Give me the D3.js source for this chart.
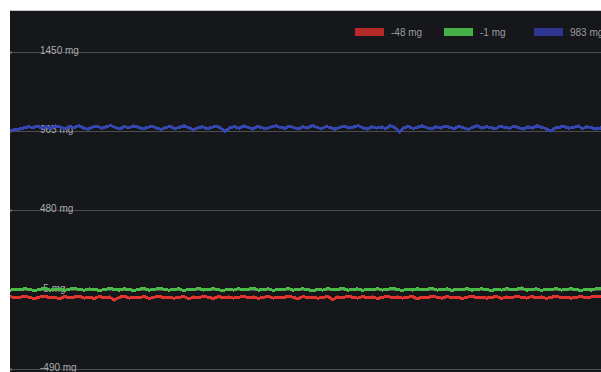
<!DOCTYPE html>
<html>
<head>
<meta charset="utf-8">
<script src="https://cdn.jsdelivr.net/npm/d3@7"></script>
<style>
  html, body { margin: 0; padding: 0; background: #ffffff; }
  svg { display: block; }
  text { font-family: "Liberation Sans", Arial, sans-serif; }
</style>
</head>
<body>
<script>
// Readings (mg) for the three channels, sampled at equal intervals
const blueValues = [968, 972, 976, 983, 990, 986, 993, 984, 990, 981, 995, 988, 979, 992, 985, 997, 983, 975, 988, 994,
  981, 990, 998, 985, 977, 991, 984, 995, 987, 978, 986, 993, 982, 974, 985, 992, 979, 987, 996, 984,
  973, 983, 990, 978, 986, 994, 982, 962, 985, 991, 980, 996, 986, 976, 992, 984, 979, 989, 996, 986,
  981, 994, 984, 977, 990, 982, 997, 986, 978, 992, 984, 975, 987, 994, 982, 989, 997, 984, 976, 991,
  982, 989, 979, 996, 986, 958, 984, 992, 979, 987, 996, 984, 977, 990, 982, 994, 986, 979, 992, 984,
  974, 987, 997, 982, 990, 985, 978, 993, 986, 981, 995, 984, 976, 990, 982, 997, 986, 979, 964, 983,
  988, 992, 981, 986, 995, 979, 990, 984, 976, 983];
const greenValues = [-9, -2, -7, 1, -5, -11, -3, 2, -8, -5, 0, -10, -2, 4, -6, -8, -1, -3, -10, -5,
  2, -3, -8, 0, -5, -10, -2, 1, -8, -5, 5, -3, -8, -4, 0, -11, -2, -5, 3, -8,
  -3, 0, -6, -10, -2, -8, 1, -5, -3, 4, -8, -5, 0, -10, -2, -6, 3, -8, -3, 0,
  -5, -13, -2, -8, 1, -5, -3, 2, -8, -5, 0, -10, -2, -6, 1, -8, -3, 4, -5, -10,
  -2, -8, 0, -5, -3, 3, -8, -5, 0, -10, -2, -6, 2, -8, -3, 0, -5, -10, -2, -8,
  1, -5, -3, 5, -8, -5, 0, -10, -2, -6, 2, -8, -3, 0, -5, -10, -2, -8, 0, -1];
const redValues = [-47, -56, -51, -45, -54, -59, -50, -44, -55, -52, -61, -47, -55, -50, -45, -57, -52, -59, -47, -55,
  -50, -68, -52, -45, -57, -50, -55, -47, -59, -52, -44, -55, -50, -57, -52, -47, -61, -50, -55, -45,
  -52, -59, -47, -55, -50, -57, -52, -45, -55, -50, -59, -52, -47, -57, -50, -55, -45, -52, -61, -47,
  -55, -50, -57, -52, -47, -66, -50, -55, -45, -52, -57, -47, -55, -50, -59, -52, -45, -55, -50, -57,
  -52, -47, -61, -50, -55, -45, -52, -57, -47, -55, -50, -59, -52, -45, -55, -50, -57, -52, -47, -59,
  -50, -55, -45, -52, -57, -47, -55, -50, -59, -52, -45, -55, -50, -57, -52, -47, -55, -50, -45, -48];

const yTicks = [-490, -5, 480, 965, 1450];
const legendLabels = ["-48 mg", "-1 mg", "983 mg"];
const legendColors = ["#b52a2a", "#45b046", "#2c3590"];
const lineColors = ["#e0352f", "#4cb848", "#3646b0"];

const W = 601, H = 372;
const panel = { left: 10, top: 10, right: 601, bottom: 372 };

const svg = d3.select("body").append("svg").attr("width", W).attr("height", H);

// dark plotting panel
svg.append("rect")
  .attr("x", panel.left).attr("y", panel.top)
  .attr("width", panel.right - panel.left).attr("height", panel.bottom - panel.top)
  .attr("fill", "#16171a");

// thin light rule along the panel top
svg.append("line")
  .attr("x1", panel.left).attr("x2", panel.right)
  .attr("y1", panel.top + 0.5).attr("y2", panel.top + 0.5)
  .attr("stroke", "#c4c6c8").attr("stroke-width", 1);

const y = d3.scaleLinear().domain([-490, 1450]).range([369, 51.5]);

// horizontal grid + labels
const grid = svg.append("g");
grid.selectAll("line").data(yTicks).join("line")
  .attr("x1", panel.left).attr("x2", panel.right)
  .attr("y1", d => Math.round(y(d)) + 0.5).attr("y2", d => Math.round(y(d)) + 0.5)
  .attr("stroke", "#4a4d52").attr("stroke-width", 1);
grid.selectAll("rect").data(yTicks).join("rect")
  .attr("x", panel.left).attr("y", d => Math.round(y(d)) - 0.5)
  .attr("width", 2).attr("height", 2)
  .attr("fill", "#6a6d72");
grid.selectAll("text").data(yTicks).join("text")
  .attr("x", 40).attr("y", d => Math.round(y(d)) + 1.5)
  .attr("font-size", 10)
  .attr("fill", "#a9abae")
  .text(d => d + " mg");

// series lines, drawn without anti-aliasing for a crisp pixel trace
const seriesList = [redValues, greenValues, blueValues];
svg.append("g").selectAll("path").data(seriesList).join("path")
  .attr("d", vals => {
    const x = d3.scaleLinear().domain([0, vals.length - 1]).range([panel.left, panel.right]);
    return d3.line().x((d, i) => x(i)).y(d => y(d))(vals);
  })
  .attr("fill", "none")
  .attr("stroke", (d, i) => lineColors[i])
  .attr("stroke-width", 3)
  .attr("shape-rendering", "crispEdges");

// legend
const legendX = [355, 444, 534];
const lg = svg.append("g");
lg.selectAll("rect").data(legendLabels).join("rect")
  .attr("x", (d, i) => legendX[i]).attr("y", 28)
  .attr("width", 29).attr("height", 8)
  .attr("fill", (d, i) => legendColors[i]);
lg.selectAll("text").data(legendLabels).join("text")
  .attr("x", (d, i) => legendX[i] + 36).attr("y", 35.5)
  .attr("font-size", 10)
  .attr("fill", "#9a9ca0")
  .text(d => d);
</script>
</body>
</html>
